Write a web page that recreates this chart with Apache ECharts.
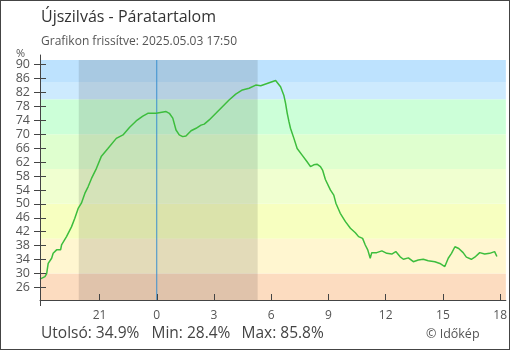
<!DOCTYPE html>
<html>
<head>
<meta charset="utf-8">
<script src="https://cdn.jsdelivr.net/npm/echarts@6.0.0/dist/echarts.min.js"></script>
<style>
html,body{margin:0;padding:0;background:#fff;}
#wrap{position:relative;width:510px;height:350px;}
#c{position:absolute;left:0;top:0;width:510px;height:350px;}
#frame{position:absolute;left:0;top:0;width:510px;height:350px;box-sizing:border-box;border:1px solid #444;pointer-events:none;z-index:10;}
</style>
</head>
<body>
<div id="wrap"><div id="c"></div><div id="frame"></div></div>
<script>
// hours relative to midnight of 2025.05.03 (negative = previous day)
const hours = [-6.12,-5.86,-5.77,-5.73,-5.69,-5.51,-5.43,-5.25,-5.04,-4.99,-4.73,-4.47,-4.30,-4.12,-3.95,-3.77,-3.60,-3.42,-3.16,-2.90,-2.56,-2.12,-1.77,-1.42,-1.08,-0.73,-0.47,-0.03,0.49,0.66,0.84,1.01,1.18,1.36,1.53,1.80,2.06,2.32,2.49,2.75,3.10,3.44,3.79,4.14,4.49,4.84,5.19,5.45,5.71,5.97,6.23,6.33,6.49,6.66,6.75,6.84,6.93,7.01,7.19,7.36,7.62,7.88,8.06,8.23,8.40,8.58,8.70,8.84,9.10,9.28,9.39,9.62,9.89,10.15,10.41,10.58,10.79,10.93,11.06,11.19,11.27,11.53,11.80,12.06,12.32,12.53,12.76,12.93,13.19,13.45,13.71,13.97,14.23,14.58,14.84,15.10,15.28,15.45,15.63,15.83,16.06,16.23,16.49,16.67,16.93,17.19,17.45,17.71,17.83];
const humidity = [28.4,29.1,30.0,31.5,32.9,34.4,35.8,36.8,36.8,38.2,40.6,43.4,45.8,48.7,50.2,53.0,54.9,57.3,60.2,63.7,65.9,68.8,69.8,72.0,73.8,75.2,76.0,76.0,76.5,76.0,74.6,71.2,69.8,69.3,69.5,71.0,71.7,72.6,72.9,74.1,76.0,77.9,79.8,81.5,82.7,83.2,84.1,83.9,84.4,84.9,85.4,85.8,83.6,81.2,78.9,76.0,73.6,71.7,68.8,65.9,64.0,62.1,60.7,61.2,61.4,60.7,59.6,57.0,54.0,52.5,50.2,47.3,44.9,43.0,41.7,40.6,40.1,38.2,36.8,34.4,36.0,36.0,36.5,35.8,35.6,36.3,34.8,34.1,34.5,33.4,33.9,34.1,33.7,33.4,32.9,32.0,34.4,35.8,37.7,37.2,36.0,34.7,34.1,34.7,36.0,35.6,35.8,36.3,34.9];
const yTicks = [26,30,34,38,42,46,50,54,58,62,66,70,74,78,82,86,90];
const xTicks = [-3,0,3,6,9,12,15,18];
const bandLimits = [22.41,30,40,50,60,70,80,85,91.29];
const bandColors = ['#fcdcc0','#fff6d0','#f7ffc0','#f0ffd0','#dfffcf','#ccffd8','#cdeafe','#bde2fe'];
const night = [-4.09, 5.29];
const midnight = 0;
const xRange = [-6.12, 18.30];
const yRange = [22.41, 92.73];
const stats = {last: 34.9, min: 28.4, max: 85.8};

const FONT = '"Open Sans", "Noto Sans", sans-serif';
const chart = echarts.init(document.getElementById('c'), null, {renderer:'canvas'});

const bandTop = bandLimits[bandLimits.length-1];
const bandItems = bandColors.map((col,i)=>[
  {xAxis: xRange[0], yAxis: bandLimits[i], itemStyle:{color:col}},
  {xAxis: xRange[1], yAxis: bandLimits[i+1]}
]);
bandItems.push([
  {xAxis: night[0], yAxis: bandLimits[0], itemStyle:{color:'rgba(0,0,0,0.11)'}},
  {xAxis: night[1], yAxis: bandTop}
]);

const txt = (text, left, top, size, color) => ({text, left, top,
  textStyle:{fontFamily:FONT,fontSize:size,fontWeight:'normal',color}});

const option = {
  animation:false,
  textStyle:{fontFamily:FONT},
  title:[
    txt('Újszilvás - Páratartalom', 36, 4, 16, '#333'),
    txt('Grafikon frissítve: 2025.05.03 17:50', 36, 31, 12, '#555'),
    txt('%', 11, 43, 11, '#555'),
    txt('Utolsó: '+stats.last.toFixed(1)+'%', 36, 321, 15.5, '#444'),
    txt('Min: '+stats.min.toFixed(1)+'%', 146.5, 321, 15.5, '#444'),
    txt('Max: '+stats.max.toFixed(1)+'%', 236.5, 321, 15.5, '#444'),
    txt('© Időkép', 421, 323, 12.5, '#555')
  ],
  grid:{left:40,right:2,top:55,bottom:50,containLabel:false},
  xAxis:[
    {type:'value',min:xRange[0],max:xRange[1],z:10,
     axisLine:{show:true,onZero:false,lineStyle:{color:'#444',width:1}},
     axisTick:{show:true,inside:true,length:6,customValues:xTicks,lineStyle:{color:'#444'}},
     axisLabel:{show:true,customValues:xTicks,margin:10,fontSize:12,color:'#555',fontFamily:FONT,
       formatter:v=>String(((Math.round(v)%24)+24)%24)},
     splitLine:{show:false}},
    {type:'value',min:xRange[0],max:xRange[1],position:'bottom',z:10,
     axisLine:{show:false,onZero:false},
     axisTick:{show:true,inside:false,length:6,customValues:[xRange[0]],lineStyle:{color:'#444'}},
     axisLabel:{show:false},splitLine:{show:false}}
  ],
  yAxis:[
    {type:'value',min:yRange[0],max:yRange[1],position:'left',z:10,
     axisLine:{show:true,onZero:false,lineStyle:{color:'#444',width:1}},
     axisTick:{show:true,inside:false,length:6,customValues:yTicks,lineStyle:{color:'#444'}},
     axisLabel:{show:true,customValues:yTicks,margin:10,fontSize:12.5,color:'#555',fontFamily:FONT},
     splitLine:{show:false}},
    {type:'value',min:yRange[0],max:yRange[1],position:'left',z:10,
     axisLine:{show:false,onZero:false},
     axisTick:{show:true,inside:true,length:6,customValues:yTicks,lineStyle:{color:'#444'}},
     axisLabel:{show:false},splitLine:{show:false}}
  ],
  series:[
    {type:'line',z:1,data:[],silent:true,
     markArea:{silent:true,z:1,label:{show:false},emphasis:{disabled:true},data:bandItems}},
    {type:'line',silent:true,z:3,showSymbol:false,
     data:[[midnight,bandLimits[0]],[midnight,bandTop]],
     lineStyle:{color:'#3a8fcf',width:1},itemStyle:{color:'#3a8fcf'}},
    {type:'line',z:5,data:hours.map((h,i)=>[h,humidity[i]]),showSymbol:false,
     lineStyle:{color:'#3dbd3d',width:1.5},itemStyle:{color:'#3dbd3d'}}
  ]
};
chart.setOption(option);
</script>
</body>
</html>
